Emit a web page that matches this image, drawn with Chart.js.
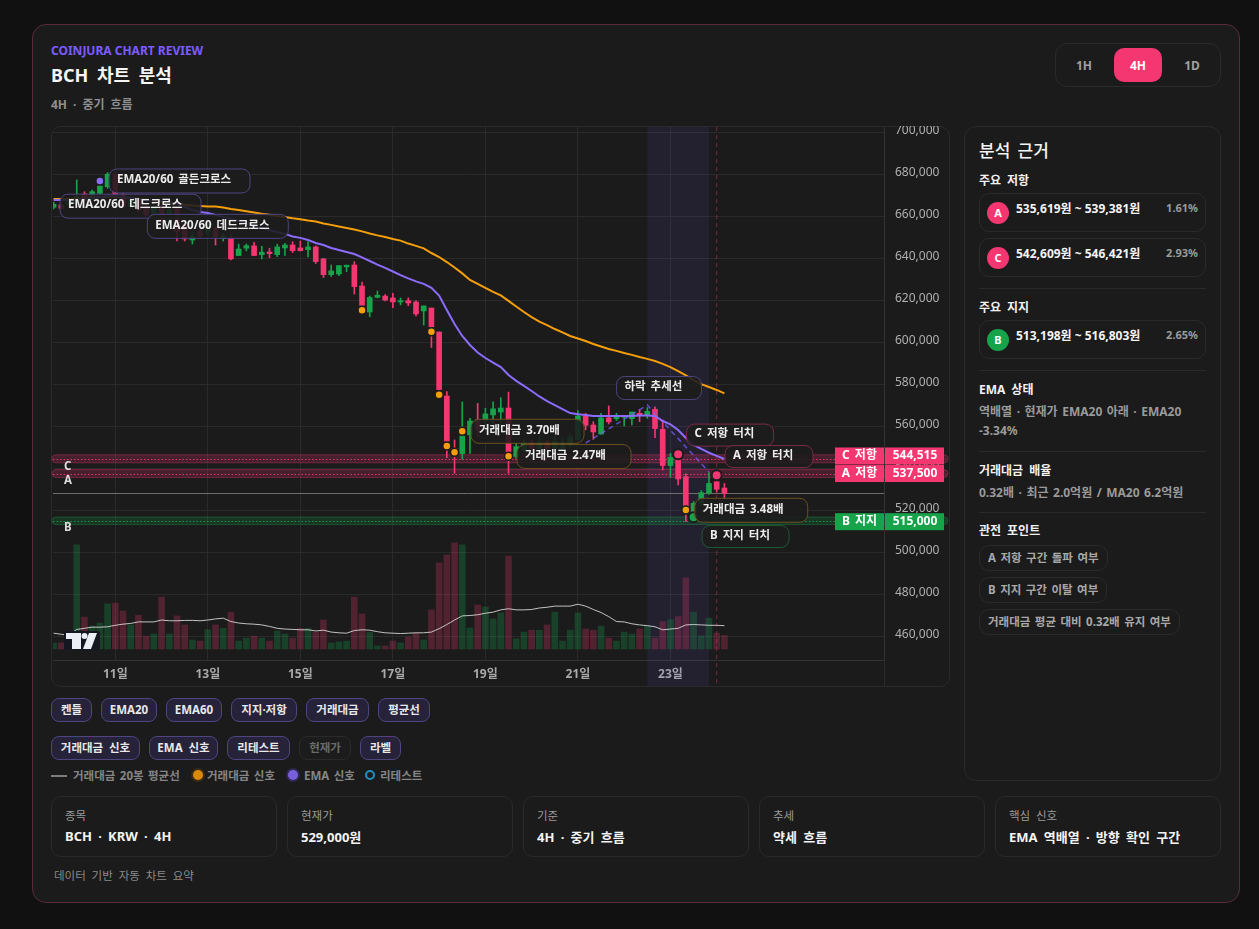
<!DOCTYPE html>
<html lang="ko">
<head>
<meta charset="utf-8">
<title>BCH 차트 분석</title>
<script src="https://cdn.jsdelivr.net/npm/chart.js@4/dist/chart.umd.min.js"></script>
<style>
*{box-sizing:border-box}
html,body{margin:0;padding:0;width:1259px;height:929px;overflow:hidden;background:#111;font-family:'Noto Sans','Noto Sans CJK KR',sans-serif;word-spacing:.18em}
.a{position:absolute;white-space:nowrap}
.mid{transform:translateY(-50%)}
#card{left:32px;top:24px;width:1208px;height:879px;border:1px solid #5a2a3c;border-radius:14px;background:#1b1b1b}
.box{border:1px solid #2a2a2a;border-radius:10px}
.tf{top:65px;font-size:12px;font-weight:700;color:#a0a0a0;transform:translate(-50%,-50%)}
.row{display:flex;gap:9px;left:51px}
.tg{height:24px;line-height:21px;text-align:center;font-size:11.5px;font-weight:700;color:#e8e8e8;background:#25223a;border:1px solid #4f4580;border-radius:8px}
.tg.off{background:#1c1c1c;border-color:#2a2a2a;color:#6a6a6a}
.lg{top:775px;font-size:11.5px;font-weight:700;color:#858585;word-spacing:1.5px}
.sl{top:815px;font-size:11.5px;color:#9a9a9a}
.sv{top:836px;font-size:13px;font-weight:700;color:#f4f4f4}
.h{left:979px;font-size:12px;font-weight:700;color:#f2f2f2}
.t{left:979px;font-size:12px;font-weight:700;color:#9a9a9a;word-spacing:1.4px}
.d{left:979px;width:227px;height:1px;background:#2a2a2a}
.zn{left:979px;width:227px;height:39px}
.ic{left:987px;width:22px;height:22px;border-radius:50%;text-align:center;line-height:22px;font-size:11px;font-weight:700;color:#fff}
.rg{left:1016px;font-size:12px;font-weight:700;color:#f4f4f4;word-spacing:0}
.pc{right:61px;font-size:11px;font-weight:700;color:#9a9a9a}
.ch{left:979px;height:26px;line-height:23px;padding:0 8px;border:1px solid #2a2a2a;border-radius:10px;font-size:11.5px;font-weight:700;color:#a8a8a8;word-spacing:1.5px}
</style>
</head>
<body>
<div id="card" class="a"></div>
<div class="a mid" style="left:51px;top:50px;font-size:12px;font-weight:700;color:#7c5cff;word-spacing:0">COINJURA CHART REVIEW</div>
<div class="a mid" style="left:51px;top:74px;font-size:18px;font-weight:700;color:#f6f6f6;word-spacing:4px">BCH 차트 분석</div>
<div class="a mid" style="left:51px;top:104px;font-size:12px;font-weight:700;color:#8f8f8f">4H · 중기 흐름</div>
<div class="a" style="left:1055px;top:43px;width:166px;height:44px;border:1px solid #2a2a2a;border-radius:12px"></div>
<div class="a" style="left:1114px;top:48px;width:48px;height:34px;border-radius:10px;background:#f43671"></div>
<div class="a tf" style="left:1084px">1H</div>
<div class="a tf" style="left:1138px;color:#fff">4H</div>
<div class="a tf" style="left:1192px">1D</div>

<div class="a box" style="left:51px;top:126px;width:899px;height:561px"></div>
<canvas id="chart" class="a" width="899" height="561" style="left:51px;top:126px;width:899px;height:561px"></canvas>

<div class="a row" style="top:698px">
<div class="tg" style="width:41px">켄들</div><div class="tg" style="width:56px">EMA20</div><div class="tg" style="width:56px">EMA60</div><div class="tg" style="width:66px">지지·저항</div><div class="tg" style="width:63px">거래대금</div><div class="tg" style="width:52px">평균선</div>
</div>
<div class="a row" style="top:736px">
<div class="tg" style="width:89px">거래대금 신호</div><div class="tg" style="width:69px">EMA 신호</div><div class="tg" style="width:63px">리테스트</div><div class="tg off" style="width:52px">현재가</div><div class="tg" style="width:41px">라벨</div>
</div>

<div class="a" style="left:51px;top:775px;width:16px;height:2px;background:#7d7d7d"></div>
<div class="a lg mid" style="left:73px">거래대금 20봉 평균선</div>
<div class="a" style="left:193px;top:770px;width:10px;height:10px;border-radius:50%;background:#d98a0b;box-shadow:0 0 0 2px #3a2c14"></div>
<div class="a lg mid" style="left:207px">거래대금 신호</div>
<div class="a" style="left:288px;top:770px;width:10px;height:10px;border-radius:50%;background:#7a5fdc;box-shadow:0 0 0 2px #2e2850"></div>
<div class="a lg mid" style="left:304px">EMA 신호</div>
<div class="a" style="left:365px;top:770px;width:10px;height:10px;border-radius:50%;border:2px solid #1f8fc4"></div>
<div class="a lg mid" style="left:380px">리테스트</div>

<div class="a box" style="left:51px;top:796px;width:226px;height:61px"></div>
<div class="a box" style="left:287px;top:796px;width:226px;height:61px"></div>
<div class="a box" style="left:523px;top:796px;width:226px;height:61px"></div>
<div class="a box" style="left:759px;top:796px;width:226px;height:61px"></div>
<div class="a box" style="left:995px;top:796px;width:226px;height:61px"></div>
<div class="a sl mid" style="left:65px">종목</div><div class="a sv mid" style="left:65px">BCH · KRW · 4H</div>
<div class="a sl mid" style="left:301px">현재가</div><div class="a sv mid" style="left:301px">529,000원</div>
<div class="a sl mid" style="left:537px">기준</div><div class="a sv mid" style="left:537px">4H · 중기 흐름</div>
<div class="a sl mid" style="left:773px">추세</div><div class="a sv mid" style="left:773px">약세 흐름</div>
<div class="a sl mid" style="left:1009px">핵심 신호</div><div class="a sv mid" style="left:1009px">EMA 역배열 · 방향 확인 구간</div>
<div class="a mid" style="left:54px;top:875px;font-size:11.5px;color:#8a8a8a">데이터 기반 자동 차트 요약</div>

<div class="a" style="left:964px;top:126px;width:257px;height:655px;border:1px solid #2a2a2a;border-radius:12px"></div>
<div class="a mid" style="left:979px;top:149px;font-size:17px;font-weight:500;color:#f4f4f4">분석 근거</div>
<div class="a h mid" style="top:180px">주요 저항</div>
<div class="a box zn" style="top:193px"></div>
<div class="a ic" style="top:202px;background:#f43671">A</div>
<div class="a rg mid" style="top:208px">535,619원 ~ 539,381원</div>
<div class="a pc mid" style="top:207px">1.61%</div>
<div class="a box zn" style="top:238px"></div>
<div class="a ic" style="top:247px;background:#f43671">C</div>
<div class="a rg mid" style="top:253px">542,609원 ~ 546,421원</div>
<div class="a pc mid" style="top:252px">2.93%</div>
<div class="a d" style="top:288px"></div>
<div class="a h mid" style="top:307px">주요 지지</div>
<div class="a box zn" style="top:320px"></div>
<div class="a ic" style="top:329px;background:#16a34a">B</div>
<div class="a rg mid" style="top:335px">513,198원 ~ 516,803원</div>
<div class="a pc mid" style="top:334px">2.65%</div>
<div class="a d" style="top:370px"></div>
<div class="a h mid" style="top:389px">EMA 상태</div>
<div class="a t mid" style="top:411px">역배열 · 현재가 EMA20 아래 · EMA20</div>
<div class="a t mid" style="top:430px">-3.34%</div>
<div class="a d" style="top:451px"></div>
<div class="a h mid" style="top:470px">거래대금 배율</div>
<div class="a t mid" style="top:492px">0.32배 · 최근 2.0억원 / MA20 6.2억원</div>
<div class="a d" style="top:512px"></div>
<div class="a h mid" style="top:530px">관전 포인트</div>
<div class="a ch" style="top:545px">A 저항 구간 돌파 여부</div>
<div class="a ch" style="top:577px">B 지지 구간 이탈 여부</div>
<div class="a ch" style="top:609px">거래대금 평균 대비 0.32배 유지 여부</div>

<script>
const FONT = "'Noto Sans','Noto Sans CJK KR',sans-serif";

// 4H candles, left to right
const opens = [664300,665400,665400,666200,670600,668200,670900,674100,680000,670100,664600,667800,664600,660600,664600,659000,663800,655900,648700,653000,652400,654300,649500,649500,641300,644800,645900,641700,643000,641700,644900,646300,644900,644100,645400,639700,632200,632500,635900,636800,626800,614400,621400,622000,621100,619200,619800,619200,614900,616300,604900,574400,549500,547000,555900,563000,562700,565400,566800,568700,545600,548700,552200,549500,552200,549500,549500,551100,553500,564900,560600,556300,564000,563600,564300,563600,566200,565400,568100,558600,541300,544300,536000,517000,523300,528100,533600,530600];
const highs = [666700,666200,667800,677300,671700,672500,675700,680800,681300,670900,668600,668600,665400,664600,665400,664100,664600,657500,652700,654300,656200,655100,651900,651100,646700,646800,647600,645700,644800,646700,647100,647900,648200,647800,645900,640000,636800,636500,636700,638400,628700,622000,624400,622700,623300,621100,621100,619800,617300,616300,604900,576500,553500,571600,563800,570900,568600,571700,573600,576300,551900,553500,553500,555100,553500,555100,554300,556700,567500,566200,562200,566200,569700,566200,565000,566800,568100,568900,569300,563000,547100,547100,537300,524100,529400,537900,535200,532800];
const lows = [663500,663300,664600,664600,667000,667800,670100,673300,669400,663800,663800,661900,659800,659800,656700,658200,648200,648200,646800,649800,651100,646300,648200,639200,641300,643500,641300,639700,640300,640800,641300,642700,643500,640600,637500,630800,631300,631700,633600,623000,615700,612200,621100,619700,616500,617800,617400,612500,608200,597500,576500,545100,537600,544300,547100,555100,559800,561400,559800,537600,544800,547900,548700,548700,548700,548700,548700,550300,553500,558300,553800,556300,561100,562700,560200,560600,562200,563800,554600,539200,535700,532100,514600,515700,522500,527500,528600,525700];
const closes = [665700,663800,667000,669400,667800,671700,674400,680000,670100,664600,667800,663000,660600,663800,658200,663000,652700,649200,650600,650600,655100,650300,650600,639700,644400,646000,641300,642900,642200,645400,646300,643600,643600,645400,638400,632200,634000,636500,636700,626500,617600,621300,622400,620100,619200,619800,618700,613500,617300,607400,577500,552900,547100,555400,562500,558300,565900,568300,568700,547800,550300,551900,549500,552200,549500,552700,551900,555100,564900,560500,557300,564000,562100,564600,564900,566800,565100,567100,558900,541300,545200,534900,521400,523300,528400,532800,530000,528100];
// traded value per candle and its 20-bar average, 억원
const volumes = [1.6,1.6,2.1,27.7,8.5,6.1,6.9,12.0,12.2,10.1,6.4,9.0,3.4,4.0,13.8,4.0,8.8,6.4,2.4,2.1,5.1,6.4,5.5,9.8,2.1,2.9,3.4,2.9,2.1,4.8,4.0,2.9,5.5,5.5,4.5,7.7,1.6,1.9,2.1,13.8,9.3,4.4,0.8,0.8,2.1,1.6,3.2,4.2,2.4,10.4,22.9,25.0,28.2,27.7,5.6,11.7,11.2,8.0,9.6,24.7,2.7,4.5,5.0,5.0,6.4,9.8,2.1,5.0,9.6,5.3,5.0,6.1,2.9,2.1,4.5,4.0,5.3,6.1,2.9,7.3,7.8,8.6,18.9,9.8,3.5,8.2,4.2,3.6];
const volumeAvg = [4.2,3.9,3.7,5.2,5.5,5.8,5.8,5.9,6.3,6.6,6.8,7.2,7.2,7.2,7.7,7.5,7.5,7.6,7.6,7.5,7.7,8.0,8.2,7.3,6.9,6.7,6.6,6.4,6.0,5.5,5.3,5.2,5.1,5.1,4.8,5.0,4.5,4.3,4.2,4.9,5.1,5.0,4.6,4.3,4.2,4.1,4.2,4.3,4.3,4.5,5.4,6.5,7.7,8.8,8.9,9.1,9.5,9.8,10.4,10.7,10.4,10.4,10.5,10.9,11.1,11.4,11.4,11.4,11.9,11.4,10.5,9.7,8.6,7.3,7.2,6.7,6.4,6.2,5.9,5.1,5.3,5.5,6.4,6.5,6.4,6.3,6.3,6.2];
const ema20 = [667800,667800,667800,667800,668200,668700,669200,669700,669700,669200,668700,668200,667800,667800,667300,666800,665900,664400,662900,662000,661600,660600,659700,658700,657800,656600,655400,654400,653500,652500,651600,650400,649700,648700,647300,646300,644900,643900,643000,642000,640400,638700,637000,635400,633700,632000,630400,629000,627800,625900,622200,615400,608700,603000,598700,595100,592500,590300,588200,584400,581600,579200,576800,574200,572000,570100,568200,566300,565700,565400,564900,564900,564900,564900,564900,564900,565100,565100,564900,562500,560900,558200,554400,551100,549200,547400,545900,544400];
const ema60 = [668200,668200,668200,668500,668700,669000,669200,669300,669300,669100,668700,668400,668000,667400,666900,666300,665900,665500,665100,664900,664700,664600,664200,663500,663000,662400,661800,661200,660700,660100,659700,659100,658600,658000,657500,656600,655900,655100,654400,653700,652800,651800,650900,650100,649200,648400,647000,645900,644700,642500,640600,638200,635600,632800,629700,627800,625900,624000,622300,619700,617000,614400,612000,609800,608200,606300,604700,603000,601800,600600,599200,598000,596800,595900,594900,594000,593000,592100,591100,589700,588200,586300,584200,582000,580100,578700,577300,575700];

// support / resistance zones
const zoneNames = ['C','A','B'];
const zoneLow = [542609,535619,513198];
const zoneHigh = [546421,539381,516803];
const zoneLevel = [544515,537500,515000];
const zoneTags = ['C 저항','A 저항','B 지지'];

// signal markers: candle index + price
const volSignalAt = [40,49,50,51,52,53,59,82];
const volSignalPrice = [615200,605000,575000,550600,547600,557600,545700,520100];
const emaSignalAt = [6];
const emaSignalPrice = [676800];
const resistTouchAt = [81,86];
const resistTouchPrice = [546700,536700];
const supportTouchAt = [83];
const supportTouchPrice = [516700];

// trend line: rise into the peak, then the fall
const trendAt = [69,77,85];
const trendPrice = [552000,570100,538200];

const lastPriceLine = 528100;
const focusFrom = 77, focusTo = 85, nowAt = 86;

const dayTicks = [8,20,32,44,56,68,80];
const dayLabels = ['11일','13일','15일','17일','19일','21일','23일'];
const priceTicks = [460000,480000,500000,520000,540000,560000,580000,600000,620000,640000,660000,680000,700000];

const RED = '#f43671', GREEN = '#16a34a', GRID = '#2a2a2a';
const isUp = i => closes[i] >= opens[i];
const pts = (at, vals) => at.map((x, k) => ({x, y: vals[k]}));
const series = vals => vals.map((y, x) => ({x, y}));

const callouts = [
  {text:'EMA20/60 골든크로스', i:7.18, price:676800, w:141, h:24, tone:'#4f4580'},
  {text:'EMA20/60 데드크로스', i:0.83, price:664800, w:141, h:24, tone:'#4f4580'},
  {text:'EMA20/60 데드크로스', i:12.15, price:655200, w:141, h:24, tone:'#4f4580'},
  {text:'거래대금 3.70배', i:54.14, price:557600, w:113, h:24, tone:'#6b5020'},
  {text:'거래대금 2.47배', i:60.1, price:545600, w:114, h:24, tone:'#6b5020'},
  {text:'하락 추세선', i:73, price:578200, w:85, h:23, tone:'#4f4580'},
  {text:'C 저항 터치', i:82.1, price:555800, w:87, h:22, tone:'#7a2a48'},
  {text:'A 저항 터치', i:87.08, price:545600, w:88, h:22, tone:'#7a2a48'},
  {text:'거래대금 3.48배', i:83.15, price:520000, w:113, h:24, tone:'#6b5020'},
  {text:'B 지지 터치', i:84.1, price:507500, w:87, h:22, tone:'#1f5a35'}
];

function drawRound(ctx, x, y, w, h, r) {
  ctx.beginPath();
  ctx.roundRect(x, y, w, h, r);
}

function noMargins(a) {
  a.paddingTop = a.paddingBottom = a.paddingLeft = a.paddingRight = 0;
}

const underlay = {
  id: 'underlay',
  beforeDatasetsDraw(chart) {
    const {ctx, chartArea: area, scales: {x, y}} = chart;
    const cw = chart.width, ch = chart.height;
    ctx.save();
    // axis border runs on through the time strip
    ctx.fillStyle = GRID;
    ctx.fillRect(area.right, area.bottom, 1, ch - area.bottom);
    // focus window
    ctx.fillStyle = 'rgba(124,92,255,0.09)';
    ctx.fillRect(x.getPixelForValue(focusFrom), area.top, x.getPixelForValue(focusTo) - x.getPixelForValue(focusFrom), ch - area.top - 1);
    // now marker
    ctx.strokeStyle = 'rgba(244,54,113,0.45)';
    ctx.setLineDash([4, 4]);
    ctx.beginPath();
    ctx.moveTo(x.getPixelForValue(nowAt), area.top);
    ctx.lineTo(x.getPixelForValue(nowAt), ch - 4);
    ctx.stroke();
    ctx.setLineDash([]);
    // zones
    zoneNames.forEach((n, k) => {
      const col = n === 'B' ? '22,163,74' : '244,54,113';
      const top = y.getPixelForValue(zoneHigh[k]), bot = y.getPixelForValue(zoneLow[k]);
      drawRound(ctx, area.left - 1, top, cw - area.left - 1, bot - top, 5);
      ctx.fillStyle = `rgba(${col},0.2)`;
      ctx.fill();
      ctx.strokeStyle = `rgba(${col},0.35)`;
      ctx.stroke();
      const lv = Math.round(y.getPixelForValue(zoneLevel[k])) + 0.5;
      ctx.strokeStyle = `rgba(${col},0.9)`;
      ctx.setLineDash([1.5, 2]);
      ctx.beginPath();
      ctx.moveTo(area.left, lv);
      ctx.lineTo(cw - 4, lv);
      ctx.stroke();
      ctx.setLineDash([]);
    });
    // last price line
    const lp = Math.round(y.getPixelForValue(lastPriceLine)) + 0.5;
    ctx.strokeStyle = '#6e6e6e';
    ctx.beginPath();
    ctx.moveTo(area.left, lp);
    ctx.lineTo(area.right, lp);
    ctx.stroke();
    ctx.restore();
  }
};

const overlay = {
  id: 'overlay',
  afterDatasetsDraw(chart) {
    const {ctx, chartArea: area, scales: {x, y}} = chart;
    ctx.save();
    ctx.textBaseline = 'middle';
    ctx.wordSpacing = '2px';

    // tradingview mark
    const lx = area.left + 13, ly = area.bottom - 27;
    ctx.fillStyle = '#141722';
    drawRound(ctx, lx - 2, ly - 2, 36, 19, 2);
    ctx.fill();
    ctx.fillStyle = '#eceef5';
    ctx.fillRect(lx, ly, 15, 6);
    ctx.fillRect(lx + 6, ly + 6, 9, 10);
    ctx.beginPath();
    ctx.arc(lx + 18.5, ly + 3, 3, 0, Math.PI * 2);
    ctx.fill();
    ctx.beginPath();
    ctx.moveTo(lx + 23, ly);
    ctx.lineTo(lx + 31, ly);
    ctx.lineTo(lx + 25, ly + 16);
    ctx.lineTo(lx + 17, ly + 16);
    ctx.closePath();
    ctx.fill();

    // zone letters under each band
    ctx.font = `700 11.5px ${FONT}`;
    ctx.fillStyle = '#dddddd';
    ctx.textAlign = 'left';
    zoneNames.forEach((n, k) => ctx.fillText(n, area.left + 11, y.getPixelForValue(zoneLow[k]) + 3.5));

    // callouts
    callouts.forEach(c => {
      const left = x.getPixelForValue(c.i), cy = y.getPixelForValue(c.price);
      drawRound(ctx, left, cy - c.h / 2, c.w, c.h, 8);
      ctx.fillStyle = 'rgba(28,28,28,0.88)';
      ctx.fill();
      ctx.strokeStyle = c.tone;
      ctx.lineWidth = 1;
      ctx.stroke();
      ctx.fillStyle = '#ececec';
      ctx.textAlign = 'left';
      ctx.font = `700 11.5px ${FONT}`;
      ctx.fillText(c.text, left + 8, cy - 1);
    });

    // price tags on the axis, pushed apart when they would touch
    const cyC = y.getPixelForValue(zoneLevel[0]) - 2.8;
    const tagY = [cyC, y.getPixelForValue(zoneLevel[1]), y.getPixelForValue(zoneLevel[2]) + 0.9];
    zoneNames.forEach((n, k) => {
      const col = n === 'B' ? GREEN : RED, top = tagY[k] - 8.5;
      ctx.fillStyle = col;
      ctx.fillRect(area.right - 49, top, 49, 17);
      ctx.fillRect(area.right + 1, top, 59, 17);
      ctx.fillStyle = '#fff';
      ctx.font = `700 12px ${FONT}`;
      ctx.textAlign = 'center';
      ctx.fillText(zoneTags[k], area.right - 24.5, tagY[k]);
      ctx.fillText(zoneLevel[k].toLocaleString('en-US'), area.right + 31, tagY[k]);
    });
    ctx.restore();
  }
};

new Chart(document.getElementById('chart'), {
  type: 'bar',
  data: {
    datasets: [
      {label:'거래대금', yAxisID:'yVol', order:10, grouped:false, barThickness:6,
        data: series(volumes),
        backgroundColor: volumes.map((v, i) => isUp(i) ? 'rgba(22,163,74,0.28)' : 'rgba(244,54,113,0.25)')},
      {type:'line', label:'거래대금 20봉 평균선', yAxisID:'yVol', order:9,
        data: series(volumeAvg), borderColor:'rgba(222,222,222,0.85)', borderWidth:1, pointRadius:0},
      {label:'wick', order:6, grouped:false, barThickness:1,
        data: lows.map((l, i) => ({x:i, y:[l, highs[i]]})),
        backgroundColor: lows.map((l, i) => isUp(i) ? GREEN : RED)},
      {label:'body', order:5, grouped:false, barThickness:5, minBarLength:1,
        data: opens.map((o, i) => ({x:i, y:[o, closes[i]]})),
        backgroundColor: opens.map((o, i) => isUp(i) ? GREEN : RED)},
      {type:'line', label:'추세선', order:4, data: pts(trendAt, trendPrice),
        borderColor:'rgba(124,92,255,0.75)', borderWidth:1.5, borderDash:[5,4], pointRadius:0},
      {type:'line', label:'EMA60', order:3, data: series(ema60), borderColor:'#f59e0b', borderWidth:2, pointRadius:0},
      {type:'line', label:'EMA20', order:2, data: series(ema20), borderColor:'#8b6cff', borderWidth:2, pointRadius:0},
      {type:'line', label:'거래대금 신호', order:1, showLine:false, data: pts(volSignalAt, volSignalPrice),
        pointRadius:4, pointBackgroundColor:'#f59e0b', pointBorderColor:'#1c1c1c', pointBorderWidth:1.5},
      {type:'line', label:'EMA 신호', order:1, showLine:false, data: pts(emaSignalAt, emaSignalPrice),
        pointRadius:4, pointBackgroundColor:'#8b6cff', pointBorderColor:'#1c1c1c', pointBorderWidth:1.5},
      {type:'line', label:'저항 터치', order:1, showLine:false, data: pts(resistTouchAt, resistTouchPrice),
        pointRadius:5, pointBackgroundColor:RED, pointBorderColor:'#1c1c1c', pointBorderWidth:2},
      {type:'line', label:'지지 터치', order:1, showLine:false, data: pts(supportTouchAt, supportTouchPrice),
        pointRadius:5, pointBackgroundColor:GREEN, pointBorderColor:'#1c1c1c', pointBorderWidth:2}
    ]
  },
  options: {
    responsive: false,
    animation: false,
    events: [],
    layout: {autoPadding:false, padding: {left:2, top:1, right:0, bottom:0}},
    plugins: {legend: {display:false}, tooltip: {enabled:false}},
    scales: {
      x: {
        type: 'linear', offset: false, min: -0.08, max: 107.7,
        afterBuildTicks: a => { a.ticks = dayTicks.map(value => ({value})); },
        afterFit: a => { a.height = 27; noMargins(a); },
        grid: {color: GRID, drawTicks:false, offset:false},
        border: {color: '#333333'},
        ticks: {
          autoSkip:false, maxRotation:0, padding:7, color:'#a8a8a8', font:{family:FONT, size:12, weight:'700'},
          callback: v => dayLabels[dayTicks.indexOf(v)]
        }
      },
      y: {
        position: 'right', min: 448714, max: 702500,
        afterBuildTicks: a => { a.ticks = priceTicks.map(value => ({value})); },
        afterFit: a => { a.width = 66; noMargins(a); },
        grid: {color: GRID, drawTicks:false},
        border: {color: '#333333'},
        ticks: {
          autoSkip:false, padding:11, labelOffset:-2, color:'#b0b0b0', font:{family:FONT, size:12},
          callback: v => v.toLocaleString('en-US')
        }
      },
      yVol: {display:false, min:-2.93, max:138.8}
    }
  },
  plugins: [underlay, overlay]
});
</script>
</body>
</html>
